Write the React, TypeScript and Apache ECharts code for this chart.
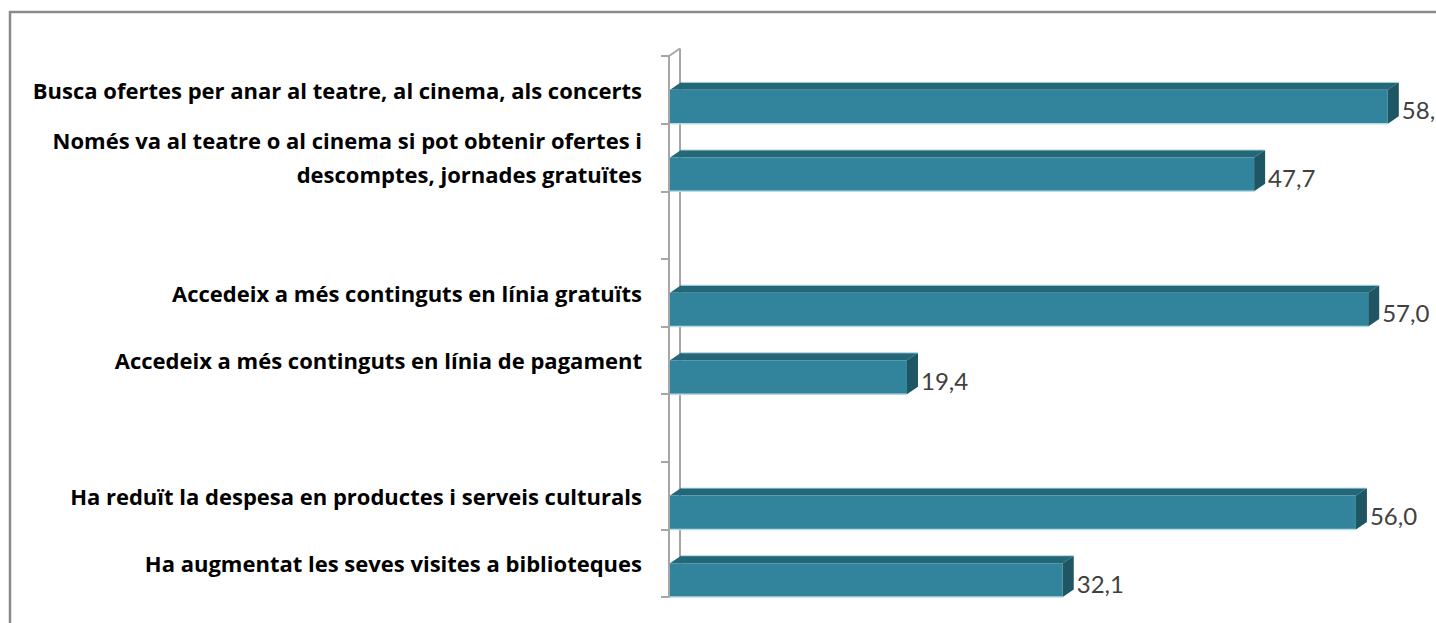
import React, { useEffect, useRef } from "react";
import * as echarts from "echarts";

const categories: string[] = [
  "Busca ofertes per anar al teatre, al cinema, als concerts",
  "Només va al teatre o al cinema si pot obtenir ofertes i\ndescomptes, jornades gratuïtes",
  "",
  "Accedeix a més continguts en línia gratuïts",
  "Accedeix a més continguts en línia de pagament",
  "",
  "Ha reduït la despesa en productes i serveis culturals",
  "Ha augmentat les seves visites a biblioteques",
];

const values: (number | null)[] = [58.6, 47.7, null, 57.0, 19.4, null, 56.0, 32.1];

const xMin = 0;
const xMax = 60;

const FRONT = "#31849b";
const TOP = "#236878";
const SIDE = "#1f5664";
const EDGE = "#b7dbe5";
const DX = 11;
const DY = 7.5;

function fmt(v: number): string {
  return v.toFixed(1).replace(".", ",");
}

export default function App() {
  const ref = useRef<HTMLDivElement>(null);
  useEffect(() => {
    if (!ref.current) return;
    const chart = echarts.init(ref.current, null, { renderer: "svg" });
    const barData = values
      .map((v, i) => (v == null ? null : [v, i]))
      .filter((d) => d != null) as number[][];
    chart.setOption({
      animation: false,
      backgroundColor: "#ffffff",
      grid: { left: 669, top: 56, bottom: 26, right: 31, containLabel: false },
      xAxis: {
        type: "value",
        min: xMin,
        max: xMax,
        show: false,
      },
      yAxis: {
        type: "category",
        inverse: true,
        data: categories,
        axisLine: { show: true, lineStyle: { color: "#a6a6a6", width: 2 } },
        axisTick: { show: true, length: 8, interval: 0, lineStyle: { color: "#a6a6a6", width: 2 } },
        axisLabel: {
          interval: 0,
          margin: 27,
          color: "#000000",
          fontFamily: "Open Sans",
          fontWeight: "bold",
          fontSize: 22,
          lineHeight: 34,
          align: "right",
        },
        splitLine: { show: false },
        z: 3,
      },
      graphic: [
        {
          type: "rect",
          shape: { x: 10, y: 12, width: 1500, height: 700 },
          style: { fill: "none", stroke: "#8a8a8a", lineWidth: 2.5 },
          silent: true,
        },
      ],
      series: [
        {
          type: "custom",
          name: "wall",
          data: [[0, 0]],
          z: 1,
          renderItem: (params: any, api: any) => {
            const band = api.size([0, 1])[1];
            const top = api.coord([0, 0]);
            const bot = api.coord([0, categories.length - 1]);
            const x0 = top[0];
            const yTop = top[1] - band / 2;
            const yBot = bot[1] + band / 2;
            const style = { stroke: "#a6a6a6", lineWidth: 2 };
            return {
              type: "group",
              children: [
                { type: "line", shape: { x1: x0 + DX, y1: yTop - DY, x2: x0 + DX, y2: yBot - DY }, style },
                { type: "line", shape: { x1: x0, y1: yTop, x2: x0 + DX, y2: yTop - DY }, style },
              ],
            };
          },
        },
        {
          type: "custom",
          name: "bars",
          data: barData,
          z: 5,
          encode: { x: 0, y: 1 },
          renderItem: (params: any, api: any) => {
            const v = api.value(0);
            const idx = api.value(1);
            const band = api.size([0, 1])[1];
            const p0 = api.coord([0, idx]);
            const p1 = api.coord([v, idx]);
            const x0 = p0[0] + 1;
            const x1 = p1[0];
            const yc = p0[1];
            const h = band / 2;
            const yb = yc + h;
            return {
              type: "group",
              children: [
                {
                  type: "polygon",
                  shape: { points: [[x0, yc], [x0 + DX, yc - DY], [x1 + DX, yc - DY], [x1, yc]] },
                  style: { fill: TOP },
                },
                {
                  type: "polygon",
                  shape: { points: [[x1, yc], [x1 + DX, yc - DY], [x1 + DX, yb - DY], [x1, yb]] },
                  style: { fill: SIDE },
                },
                {
                  type: "rect",
                  shape: { x: x0, y: yc, width: x1 - x0, height: h },
                  style: { fill: FRONT },
                },
                {
                  type: "line",
                  shape: { x1: x0, y1: yb, x2: x1, y2: yb },
                  style: { stroke: EDGE, lineWidth: 1.5 },
                },
                {
                  type: "line",
                  shape: { x1: x0 + DX, y1: yc - DY, x2: x1 + DX, y2: yc - DY },
                  style: { stroke: EDGE, lineWidth: 1 },
                },
                {
                  type: "text",
                  style: {
                    text: fmt(v),
                    x: x1 + DX + 3,
                    y: yc + h / 2 + 3,
                    verticalAlign: "middle",
                    align: "left",
                    fill: "#404040",
                    fontFamily: "Lato",
                    fontSize: 24,
                  },
                },
              ],
            };
          },
        },
      ],
    });
    return () => chart.dispose();
  }, []);
  return (
    <div
      ref={ref}
      style={{ position: "fixed", left: 0, top: 0, width: 1436, height: 623 }}
    />
  );
}
